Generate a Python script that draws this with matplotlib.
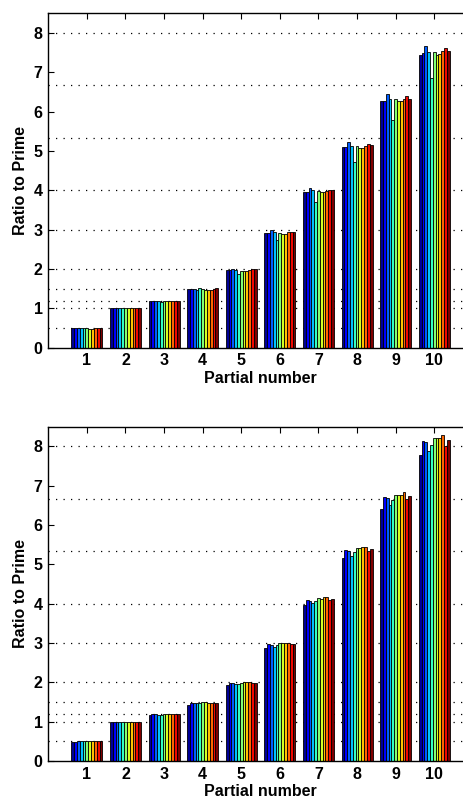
import matplotlib
matplotlib.use("Agg")
import matplotlib.pyplot as plt
import numpy as np

plt.rcParams["font.family"] = ["Liberation Sans", "DejaVu Sans"]
plt.rcParams["font.weight"] = "bold"

partials = [1, 2, 3, 4, 5, 6, 7, 8, 9, 10]

# ratio to prime, one row per partial, one column per series
ratios_top = [
    [0.49, 0.49, 0.49, 0.49, 0.49, 0.49, 0.48, 0.48, 0.49, 0.50, 0.50],
    [1.00, 1.00, 1.00, 1.00, 1.00, 1.00, 1.00, 1.00, 1.00, 1.00, 1.00],
    [1.18, 1.18, 1.20, 1.18, 1.16, 1.18, 1.18, 1.18, 1.18, 1.20, 1.20],
    [1.49, 1.48, 1.48, 1.47, 1.53, 1.50, 1.47, 1.47, 1.47, 1.50, 1.53],
    [1.97, 1.97, 2.01, 1.98, 1.88, 1.96, 1.95, 1.96, 1.97, 1.99, 1.99],
    [2.92, 2.92, 2.98, 2.93, 2.74, 2.92, 2.90, 2.90, 2.93, 2.95, 2.95],
    [3.97, 3.97, 4.07, 4.00, 3.70, 3.98, 3.95, 3.95, 3.98, 4.02, 4.02],
    [5.09, 5.10, 5.24, 5.12, 4.73, 5.12, 5.08, 5.08, 5.12, 5.18, 5.15],
    [6.27, 6.28, 6.45, 6.32, 5.78, 6.31, 6.26, 6.27, 6.31, 6.40, 6.33],
    [7.45, 7.49, 7.68, 7.52, 6.85, 7.52, 7.45, 7.47, 7.53, 7.63, 7.53],
]

ratios_bottom = [
    [0.48, 0.49, 0.50, 0.50, 0.50, 0.50, 0.50, 0.50, 0.50, 0.50, 0.50],
    [1.00, 1.00, 1.00, 1.00, 1.00, 1.00, 1.00, 1.00, 1.00, 1.00, 1.00],
    [1.17, 1.19, 1.19, 1.18, 1.18, 1.19, 1.19, 1.19, 1.19, 1.19, 1.19],
    [1.43, 1.47, 1.48, 1.47, 1.47, 1.49, 1.49, 1.48, 1.48, 1.47, 1.47],
    [1.93, 1.98, 1.98, 1.95, 1.95, 1.99, 2.00, 2.00, 2.00, 1.99, 1.98],
    [2.88, 2.97, 2.95, 2.90, 2.95, 2.99, 2.99, 3.00, 3.01, 2.97, 2.98],
    [3.97, 4.10, 4.08, 4.02, 4.06, 4.14, 4.13, 4.16, 4.17, 4.09, 4.12],
    [5.16, 5.37, 5.34, 5.22, 5.31, 5.41, 5.41, 5.43, 5.45, 5.33, 5.38],
    [6.42, 6.71, 6.68, 6.51, 6.63, 6.76, 6.77, 6.77, 6.85, 6.65, 6.73],
    [7.77, 8.14, 8.10, 7.88, 8.03, 8.20, 8.22, 8.20, 8.30, 8.02, 8.16],
]

grid_levels = [0.5, 1.0, 1.2, 1.5, 2.0, 3.0, 4.0, 16 / 3, 20 / 3, 8.0]
y_ticks = [0, 1, 2, 3, 4, 5, 6, 7, 8]


def draw_panel(ax, data):
    data = np.array(data)
    n_series = data.shape[1]
    colors = plt.cm.jet(np.linspace(0.02, 1, n_series))
    group_w = 0.8
    bar_w = group_w / n_series
    x = np.array(partials, dtype=float)

    for lvl in grid_levels:
        ax.axhline(lvl, color="black", linestyle=(0, (1, 5)), linewidth=0.9, zorder=0)

    for i in range(n_series):
        offs = -group_w / 2 + bar_w * (i + 0.5)
        ax.bar(x + offs, data[:, i], width=bar_w, color=colors[i],
               edgecolor="black", linewidth=0.6, zorder=2)

    ax.set_xlim(0, 11)
    ax.set_ylim(0, 8.5)
    ax.set_xticks(partials)
    ax.set_yticks(y_ticks)
    ax.tick_params(direction="in", length=4, width=0.8, top=True, right=True,
                   labelsize=11.5, pad=4)
    for lab in ax.get_xticklabels() + ax.get_yticklabels():
        lab.set_fontweight("bold")
    for sp in ax.spines.values():
        sp.set_linewidth(1.0)
    ax.set_xlabel("Partial number", fontsize=11.5, fontweight="bold", labelpad=2)
    ax.set_ylabel("Ratio to Prime", fontsize=11.5, fontweight="bold", labelpad=4)


fig = plt.figure(figsize=(4.63, 8.01), dpi=100)
ax1 = fig.add_axes([0.1043, 0.5659, 0.917, 0.4175])
ax2 = fig.add_axes([0.1043, 0.0499, 0.917, 0.4174])
draw_panel(ax1, ratios_top)
draw_panel(ax2, ratios_bottom)

fig.savefig("out.png", dpi=100)
